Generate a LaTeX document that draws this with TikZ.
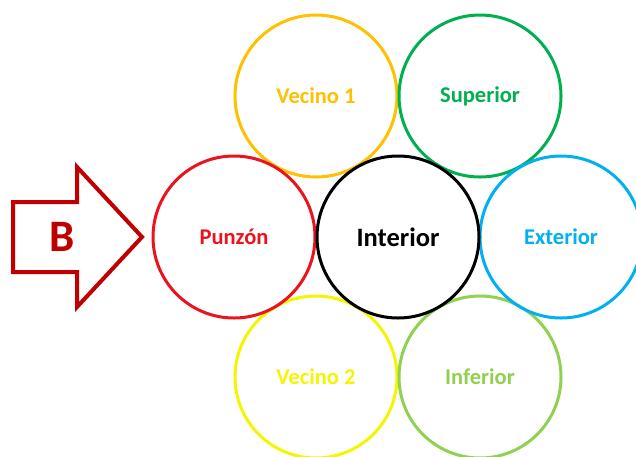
\documentclass[tikz,border=0pt]{standalone}
\usepackage{fontspec}
\setmainfont{Carlito}
\definecolor{cgold}{RGB}{255,192,0}
\definecolor{cgreen}{RGB}{0,176,80}
\definecolor{cblue}{RGB}{0,176,240}
\definecolor{cyell}{RGB}{245,245,0}
\definecolor{clime}{RGB}{146,208,80}
\definecolor{cred}{RGB}{235,20,30}
\definecolor{cdred}{RGB}{192,0,0}
\tikzset{
  ring/.style={circle, draw=#1, text=#1, line width=3pt, minimum size=162pt, inner sep=0pt,
    font=\fontsize{22.5}{24}\selectfont\bfseries},
}
\begin{document}
\begin{tikzpicture}[x=1pt,y=-1pt]
\useasboundingbox (0,0) rectangle (636,456);
\clip (0,0) rectangle (636,456);
\fill[white] (0,0) rectangle (636,456);
\node[ring=cgold] (v1) at (316,96) {Vecino 1};
\node[ring=cgreen] (sup) at (480,96) {Superior};
\node[ring=cyell] (v2) at (316,377) {Vecino 2};
\node[ring=clime] (inf) at (480,377) {Inferior};
\node[ring=cred] (pun) at (234,237) {Punzón};
\node[ring=cblue] (ext) at (561,237) {Exterior};
\node[ring=black, font=\fontsize{26.5}{28}\selectfont\bfseries] (int) at (398,237) {Interior};
\draw[cdred, line width=4pt, line join=miter]
  (13,202) -- (77,202) -- (77,167) -- (142,237) -- (77,307) -- (77,272) -- (13,272) -- cycle;
\node[text=cdred, font=\fontsize{45}{46}\selectfont\bfseries] (b) at (62,237) {B};
\end{tikzpicture}
\end{document}
